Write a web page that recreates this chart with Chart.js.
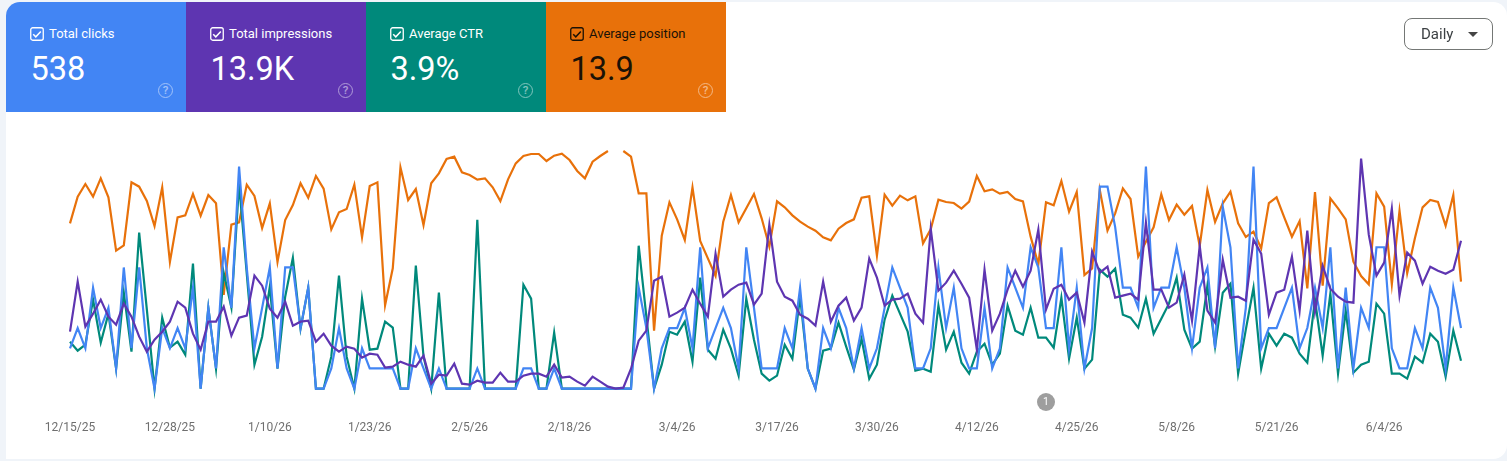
<!DOCTYPE html>
<html><head><meta charset="utf-8">
<script src="https://cdn.jsdelivr.net/npm/chart.js@4"></script>
<style>
html,body{margin:0;padding:0;width:1507px;height:461px;overflow:hidden;background:#f0f4f9;font-family:Roboto,sans-serif}
#panel{position:absolute;left:6px;top:2px;width:1501px;height:457px;background:#fff;border-radius:14px 14px 14px 0}
canvas{position:absolute;left:0;top:0}
.card{position:absolute;top:2px;width:180px;height:110px;color:#fff}
.card.first{border-top-left-radius:14px}
.card .lab{position:absolute;left:43px;top:24px;font-size:13px;line-height:16px;font-weight:400;white-space:nowrap}
.card .val{position:absolute;left:24.5px;top:48px;font-size:32.5px;line-height:38px;font-weight:400}
.card svg.cb{position:absolute;left:24px;top:25px}
.card .q{position:absolute;left:152px;top:81px;width:13px;height:13px;border:1.5px solid #fff;color:#fff;border-radius:50%;opacity:.5;font-size:11.5px;font-weight:500;line-height:13px;text-align:center}
#btn{position:absolute;left:1404px;top:18px;width:87px;height:30px;border:1px solid #747775;border-radius:8px;background:#fff;color:#3c4043;font-size:15px;line-height:30px}
#btn span{position:absolute;left:16px}
#btn i{position:absolute;left:63px;top:13px;width:0;height:0;border-left:5px solid transparent;border-right:5px solid transparent;border-top:5px solid #444}
#note{position:absolute;left:1037px;top:393px;width:18px;height:18px;border-radius:50%;background:#9e9e9e;color:#fff;font-size:10.5px;line-height:18px;text-align:center}
</style></head><body>
<div id="panel"></div>
<canvas id="c" width="1507" height="461"></canvas>
<div id="cards"></div>
<div id="btn"><span>Daily</span><i></i></div>
<div id="note">1</div>
<script>
const tickLabels=["12/15/25","12/28/25","1/10/26","1/23/26","2/5/26","2/18/26","3/4/26","3/17/26","3/30/26","4/12/26","4/25/26","5/8/26","5/21/26","6/4/26"];
const clicks=[2,3,2,5,3,4,1,6,2,6,
2,0,3,2,3,2,5,0,4,1,
7,4,11,6,2,4,6,1,6,6,
3,5,0,0,1,3,1,0,2,1,
1,1,1,0,0,2,1,0,1,0,
0,0,0,1,0,0,0,0,0,1,
1,0,0,1,0,0,0,0,0,0,
0,0,0,0,5,3,0,2,3,3,
4,2,7,2,3,4,3,1,7,4,
1,1,1,3,2,5,1,0,3,2,
4,3,1,3,1,2,4,6,5,4,
1,1,2,6,3,5,2,1,1,4,
1,2,6,5,4,7,6,3,3,7,
2,5,1,3,10,10,8,5,5,4,
11,4,5,5,7,5,2,5,6,2,
9,7,1,4,11,2,3,3,4,5,
2,3,5,3,7,1,5,1,4,3,
7,7,2,1,1,3,2,5,4,1,5,3];
const impressions=[57,107,62,75,89,72,64,85,72,52,
37,49,57,67,87,81,55,39,67,67,
82,53,71,73,113,103,80,71,87,63,
67,68,47,55,43,37,42,40,31,35,
34,21,22,27,24,22,33,5,14,13,
25,5,4,8,6,6,16,7,7,13,
15,15,12,24,11,12,7,3,12,7,
2,0,1,20,48,58,108,112,72,76,
81,99,85,72,135,92,99,104,106,84,
95,164,107,92,88,74,70,63,107,67,
83,91,68,81,130,111,83,89,90,95,
75,66,160,98,106,118,105,91,39,119,
58,75,99,118,102,118,159,79,100,104,
89,96,66,137,116,122,91,93,95,89,
166,99,99,81,86,114,68,143,78,66,
129,91,92,88,149,135,74,96,99,132,
78,158,77,123,100,92,87,86,230,154,
113,126,180,93,136,128,105,122,118,115,119,148];
const ctr=[4.7,3.8,4.4,8.9,4.6,7.5,2.0,9.6,3.7,15.6,
7.9,0,7.1,4.1,4.7,3.4,12.5,0,8.1,2.0,
11.6,8.1,20.5,11.5,2.4,5.2,10.2,2.0,9.2,13.1,
6.0,10.1,0,0,3.2,11.3,3.2,0,9.0,3.9,
4.0,6.7,6.1,0,0,12.3,3.2,0,9.6,0,
0,0,0,16.9,0,0,0,0,0,10.4,
9.0,0,0,5.6,0,0,0,0,0,0,
0,0,0,0,14.3,7.2,0,2.4,5.7,5.4,
6.7,2.7,11.1,3.9,3.0,5.9,4.0,1.3,9.0,4.9,
1.5,0.8,1.3,4.4,3.0,9.2,2.0,0,3.8,4.0,
6.6,4.2,1.9,5.0,1.0,2.4,6.9,9.3,7.5,5.7,
1.8,2.0,1.7,8.3,3.9,5.7,2.6,1.5,3.7,4.5,
2.4,3.5,8.3,5.8,5.4,8.1,5.1,5.1,4.1,9.1,
3.0,7.1,2.0,2.9,11.9,11.2,12.0,7.4,7.1,6.1,
9.0,5.5,7.0,8.5,11.1,5.9,4.0,4.7,10.3,4.2,
9.6,10.5,1.5,5.9,10.1,2.0,5.5,4.3,5.5,5.1,
3.5,2.6,8.9,3.3,9.5,1.5,7.8,1.6,2.4,2.7,
8.5,7.5,1.5,1.5,1.0,3.2,2.6,5.5,4.7,1.2,5.8,2.8];
const position=[14.5,10.5,8.6,10.5,7.75,10.6,18.6,17.8,8.35,9,
11.15,14.9,9.1,20.3,13.6,13.3,10.1,13.35,10.25,11.5,
25.25,14.7,14.35,8.7,10.4,15.2,11.5,20.3,14,11.75,
8.5,10.65,7.4,9.3,15.4,12.85,12.35,8.7,16.6,8.9,
8.35,26.8,21.25,6.1,11,9.35,14.75,8.5,7,4.85,
4.5,6.85,7.25,7.95,7.75,9.1,11.15,7.9,5.5,4.4,
4.1,4.1,5.15,4.35,4.05,5,6.65,7.75,5.25,4.4,
3.65,null,3.65,4.5,10,10,30.6,16.35,11.35,13.9,
17,9.1,17.15,19.75,22.4,14.25,10.25,14.35,12.25,10.1,
13.75,18,11.2,12.1,13.3,14.25,15,15.6,16.6,17.05,
15.3,14.45,13.9,10.65,10.45,19.35,10.2,11.85,10.35,11.05,
10.45,17.5,15.4,10.95,11.3,11.45,12.3,11.25,7.4,9.7,
9.4,10.05,9.8,10.85,11.2,16.5,20.65,11.35,11.8,8.15,
12.75,9.8,22.25,21.25,9.5,15.6,13,9.25,10.85,19.5,
17.25,15.1,10.15,14,11.7,13.2,11.9,17.9,9.5,14.3,
11.5,9.75,14.5,16.55,15.75,18.25,11.45,10.6,13.6,16.5,
14.15,24.25,9.8,23.85,10.75,12.25,13.9,20.25,22.4,23.65,
10,12,23.65,12.6,22,16.75,12.1,11,11.3,14.85,10.25,23.25];
const cardTitles=["Total clicks","Total impressions","Average CTR","Average position"];
const cardValues=["538","13.9K","3.9%","13.9"];
const cardColors=["#4285f4","#5e35b1","#00897b","#e8710a"];
const inkColors=["#fff","#fff","#fff","#1b1206"];

const categories=clicks.map((_,i)=>{
  const d=new Date(Date.UTC(2025,11,15+i));
  return (d.getUTCMonth()+1)+"/"+d.getUTCDate()+"/"+String(d.getUTCFullYear()).slice(2);
});

const host=document.getElementById("cards");
cardTitles.forEach((t,i)=>{
  const el=document.createElement("div");
  el.className="card"+(i===0?" first":"");
  el.style.left=(6+180*i)+"px";
  el.style.background=cardColors[i];
  el.style.color=inkColors[i];
  el.innerHTML='<svg class="cb" width="14" height="14" viewBox="0 0 14 14"><rect x=".75" y=".75" width="12.5" height="12.5" rx="2" fill="none" stroke="currentColor" stroke-width="1.3"/><path d="M3.2 7.2l2.6 2.6 5-5.4" fill="none" stroke="currentColor" stroke-width="1.5"/></svg>'+
    '<div class="lab">'+t+'</div><div class="val">'+cardValues[i]+'</div><div class="q">?</div>';
  host.appendChild(el);
});

const line=(label,data,color,axis,order)=>({label,data,borderColor:color,backgroundColor:color,borderWidth:2.2,pointRadius:0,pointHoverRadius:0,tension:0,spanGaps:false,clip:false,yAxisID:axis,order});
const hidden=(min,max,reverse)=>({display:false,min,max,reverse:!!reverse});
new Chart(document.getElementById("c"),{
  type:"line",
  data:{labels:categories,datasets:[
    line("Average position",position,cardColors[3],"yPos",4),
    line("Average CTR",ctr,cardColors[2],"yCtr",3),
    line("Total clicks",clicks,cardColors[0],"yClicks",2),
    line("Total impressions",impressions,cardColors[1],"yImp",1)
  ]},
  options:{
    responsive:false,animation:false,devicePixelRatio:1,
    layout:{padding:{left:70,right:46,top:140,bottom:26.33}},
    plugins:{legend:{display:false},tooltip:{enabled:false}},
    scales:{
      x:{type:"category",offset:false,grid:{display:false,drawTicks:false},border:{display:false},
        afterFit(scale){scale.height=46;},
        ticks:{autoSkip:false,maxRotation:0,minRotation:0,padding:32,color:"#6f6f6f",font:{family:"Roboto",size:12},
          callback(v){const s=this.getLabelForValue(v);return tickLabels.includes(s)?s:"";}}},
      yClicks:hidden(0,12.31),
      yImp:hidden(0,248.67),
      yCtr:hidden(0,24.87),
      yPos:hidden(2,39.3,true)
    }
  }
});
</script>
</body></html>
